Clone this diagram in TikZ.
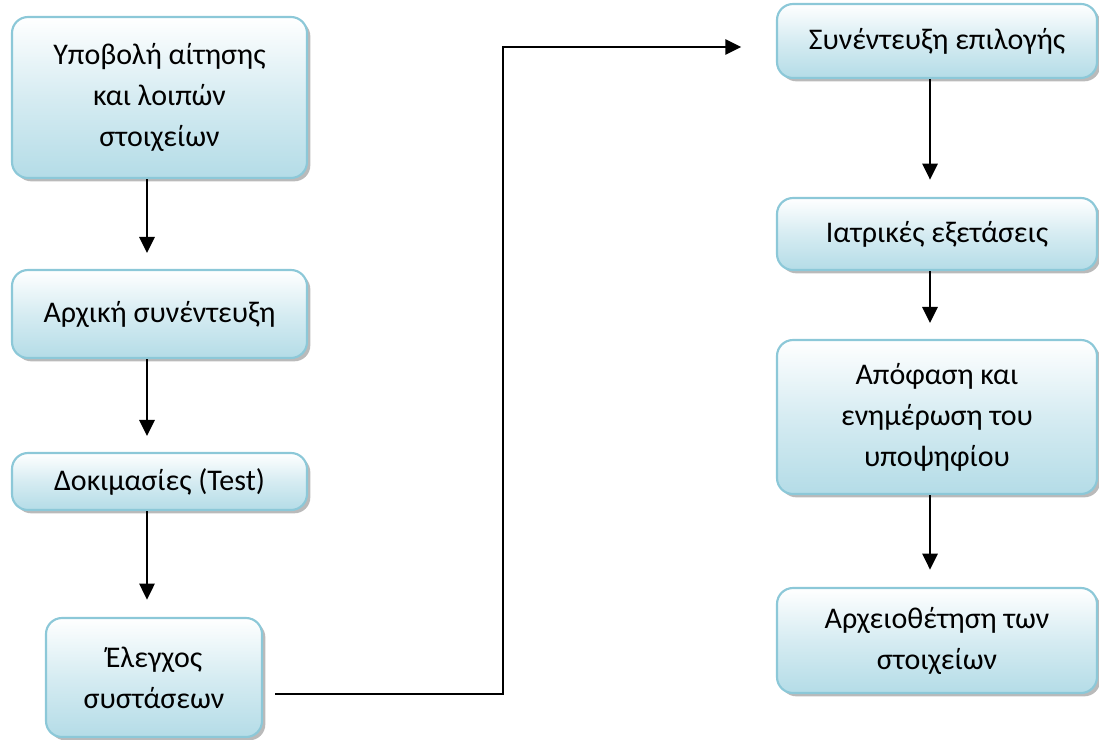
\documentclass[tikz,border=0pt]{standalone}
\usepackage{fontspec}
\setmainfont{Carlito}
\usetikzlibrary{arrows.meta,shadows,calc}

\definecolor{boxLine}{RGB}{140,200,216}
\definecolor{boxFill}{RGB}{180,220,231}

\begin{document}
\begin{tikzpicture}[x=0.75pt,y=-0.75pt,
  step box/.style={rectangle,rounded corners=12pt,draw=boxLine,line width=1.6pt,
    top color=white,bottom color=boxFill,middle color=boxFill!55,align=center,inner sep=2pt,
    font=\fontsize{22.5}{30.75}\selectfont,
    drop shadow={shadow xshift=2.5pt,shadow yshift=-2.5pt,fill=black!45,opacity=.6}},
  flow/.style={line width=1.5pt,-{Triangle[length=12pt,width=11.5pt]}}]
\path[use as bounding box] (0,0) rectangle (1099,739);

% left column
\node[step box,minimum width=221.25pt,minimum height=120.75pt] (apply) at (159.5,97.5) {Υποβολή αίτησης\\και λοιπών\\στοιχείων};
\node[step box,minimum width=221.25pt,minimum height=66pt] (first) at (159.5,314) {Αρχική συνέντευξη};
\node[step box,minimum width=221.25pt,minimum height=42.75pt] (tests) at (159.5,481.5) {Δοκιμασίες (Test)};
\node[step box,minimum width=162pt,minimum height=89.25pt] (refs) at (154,677.5) {Έλεγχος\\συστάσεων};

% right column
\node[step box,minimum width=240pt,minimum height=55.5pt] (select) at (937,41) {Συνέντευξη επιλογής};
\node[step box,minimum width=240pt,minimum height=54pt] (medical) at (937,234) {Ιατρικές εξετάσεις};
\node[step box,minimum width=240pt,minimum height=115.5pt] (decision) at (937,417) {Απόφαση και\\ενημέρωση του\\υποψηφίου};
\node[step box,minimum width=240pt,minimum height=78.75pt] (archive) at (937,640.5) {Αρχειοθέτηση των\\στοιχείων};

\coordinate (colL) at (147,0);
\coordinate (colR) at (930,0);
\coordinate (turn) at (503,0);
\coordinate (linkA) at ($(refs.east)+(12,16.5)$);
\coordinate (linkB) at ($(select.west)+(0,6)$);

\draw[flow,shorten >=12pt] (apply.south -| colL) -- (first.north -| colL);
\draw[flow,shorten >=12pt] (first.south -| colL) -- (tests.north -| colL);
\draw[flow,shorten >=13pt] (tests.south -| colL) -- (refs.north -| colL);

\draw[flow,shorten >=13pt] (select.south -| colR) -- (medical.north -| colR);
\draw[flow,shorten >=12pt] (medical.south -| colR) -- (decision.north -| colR);
\draw[flow,shorten >=13pt] (decision.south -| colR) -- (archive.north -| colR);

% link between the columns
\draw[flow,shorten >=26pt] (linkA) -- (linkA -| turn) -- (linkB -| turn) -- (linkB);
\end{tikzpicture}
\end{document}
